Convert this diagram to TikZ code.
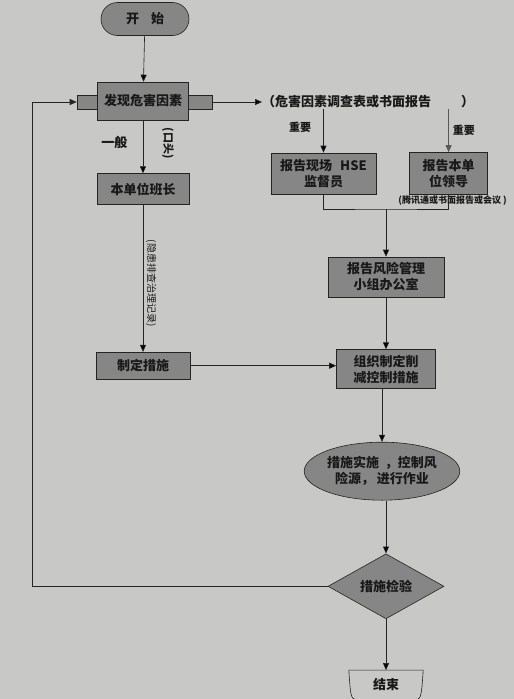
\documentclass[tikz,border=0pt]{standalone}
\usepackage{fontspec}
\newfontfamily\cjk{Noto Sans CJK SC}
\usepackage{xcolor}
\usepackage{tikz}
\usetikzlibrary{positioning, arrows, arrows.meta}
\usetikzlibrary{shapes,shapes.geometric}
\definecolor{paper}{RGB}{200,200,198}
\definecolor{boxgray}{RGB}{134,134,134}
\definecolor{inkgray}{RGB}{36,36,36}

\begin{document}
\begin{tikzpicture}[-, x=1pt, y=-1pt, node distance=50pt, >={Triangle[length=7pt,width=6pt]},
		every node/.style={font=\cjk\bfseries\fontsize{13}{16}\selectfont, text=black!90},
		box/.style={draw=inkgray, fill=boxgray, inner sep=1pt, align=center},
		small/.style={font=\cjk\bfseries\fontsize{9}{10}\selectfont, inner sep=0pt},
		line/.style={draw=inkgray, line width=0.6pt}]
		\fill[fill=paper] (0,0) rectangle (514,699);
		\useasboundingbox (0,0) rectangle (514,699);
		
		\node[box, line, rounded rectangle, minimum width=90pt, minimum height=33pt] (start) at (145,19) {开\hspace{12pt}始};
		\node[box, line, minimum width=135pt, minimum height=14pt, inner sep=0pt] (findbar) at (144.5,102) {};
		\node[box, line, minimum width=91pt, minimum height=38pt] (find) at (143,101) {发现危害因素};
		\node[box, line, below=53pt of find, minimum width=92pt, minimum height=31pt] (leader) {本单位班长};
		\node[box, line, below=147pt of leader, minimum width=94pt, minimum height=27pt] (measure) {制定措施};
		\node[anchor=west, inner sep=0pt] (report) at (262,102) {（危害因素调查表或书面报告\hspace{30pt}）};
		\node[box, line, minimum width=105pt, minimum height=41pt] (hse) at (323.5,173.5) {报告现场\hspace{8pt}HSE\\监督员};
		\node[box, line, right=33pt of hse, minimum width=78pt, minimum height=42pt] (boss) {报告本单\\位领导};
		\node[small, below=1pt of boss, xshift=4pt] (tel) {(腾讯通或书面报告或会议 )};
		\node[box, line, minimum width=116pt, minimum height=40pt] (risk) at (386,277) {报告风险管理\\小组办公室};
		\node[box, line, below=52pt of risk, minimum width=99pt, minimum height=39pt] (plan) {组织制定削\\减控制措施};
		\node[box, line, ellipse, below=53pt of plan, xshift=-4pt, minimum width=150pt, minimum height=58pt, inner sep=0pt] (act) {措施实施\hspace{6pt}，控制风\\险源，\hspace{3pt}进行作业};
		\node[box, line, diamond, aspect=1.8, below=53pt of act, xshift=4pt, minimum width=116pt, minimum height=65pt, inner sep=0pt] (check) {措施检验};
		\node[below=51pt of check, minimum width=74pt, minimum height=29pt, inner sep=0pt] (end) {结束};
		\node[small, font=\cjk\bfseries\fontsize{11}{12}\selectfont, rotate=-90] (oral) at (168,143) {(口头)};
		\node[small, font=\cjk\fontsize{10}{11}\selectfont, rotate=-90] (record) at (151,283) {(隐患排查治理记录)};
		
		% end shape
		\draw[line] (end.north west) .. controls ([xshift=2pt]end.south west) .. ([xshift=10pt]end.south west) -- ([xshift=-10pt]end.south east) .. controls ([xshift=-2pt]end.south east) .. (end.north east) -- cycle;
		
		\draw[line] (start) edge[->] node{} (find) ;
		\draw[line] (find) edge[->] node[left=12pt, pos=0.42]{一般} (leader) ;
		\draw[line] (leader) edge[->] node{} (measure) ;
		\draw[line] (findbar) edge[->] node{} (report) ;
		\draw[line] (report.south -| hse.north) edge[->] node[small, font=\cjk\bfseries\fontsize{11}{12}\selectfont, left=12pt, pos=0.42]{重要} (hse.north) ;
		\draw[line] (report.south -| boss.north) edge[->, draw=gray!70!black] node[small, font=\cjk\bfseries\fontsize{11}{12}\selectfont, right=4pt]{重要} (boss.north) ;
		
		\coordinate (join) at (risk.north |- 0,209);
		\draw[line] (hse.south) |- (join) -| (boss.south);
		\draw[line] (join) edge[->] node{} (risk.north) ;
		\draw[line] (measure.east) edge[->] node{} (measure.east -| plan.west) ;
		\draw[line] (risk) edge[->] node{} (plan) ;
		\draw[line] (plan.south -| act.north) edge[->] node{} (act.north) ;
		\draw[line] (act.south -| check.north) edge[->] node{} (check.north) ;
		\draw[line] (check) edge[->] node{} (end) ;
		
		\coordinate (back) at (check.west -| 32,0);
		\draw[line, ->] (check.west) -- (back) |- (findbar.west);
		
	\end{tikzpicture}
\end{document}
